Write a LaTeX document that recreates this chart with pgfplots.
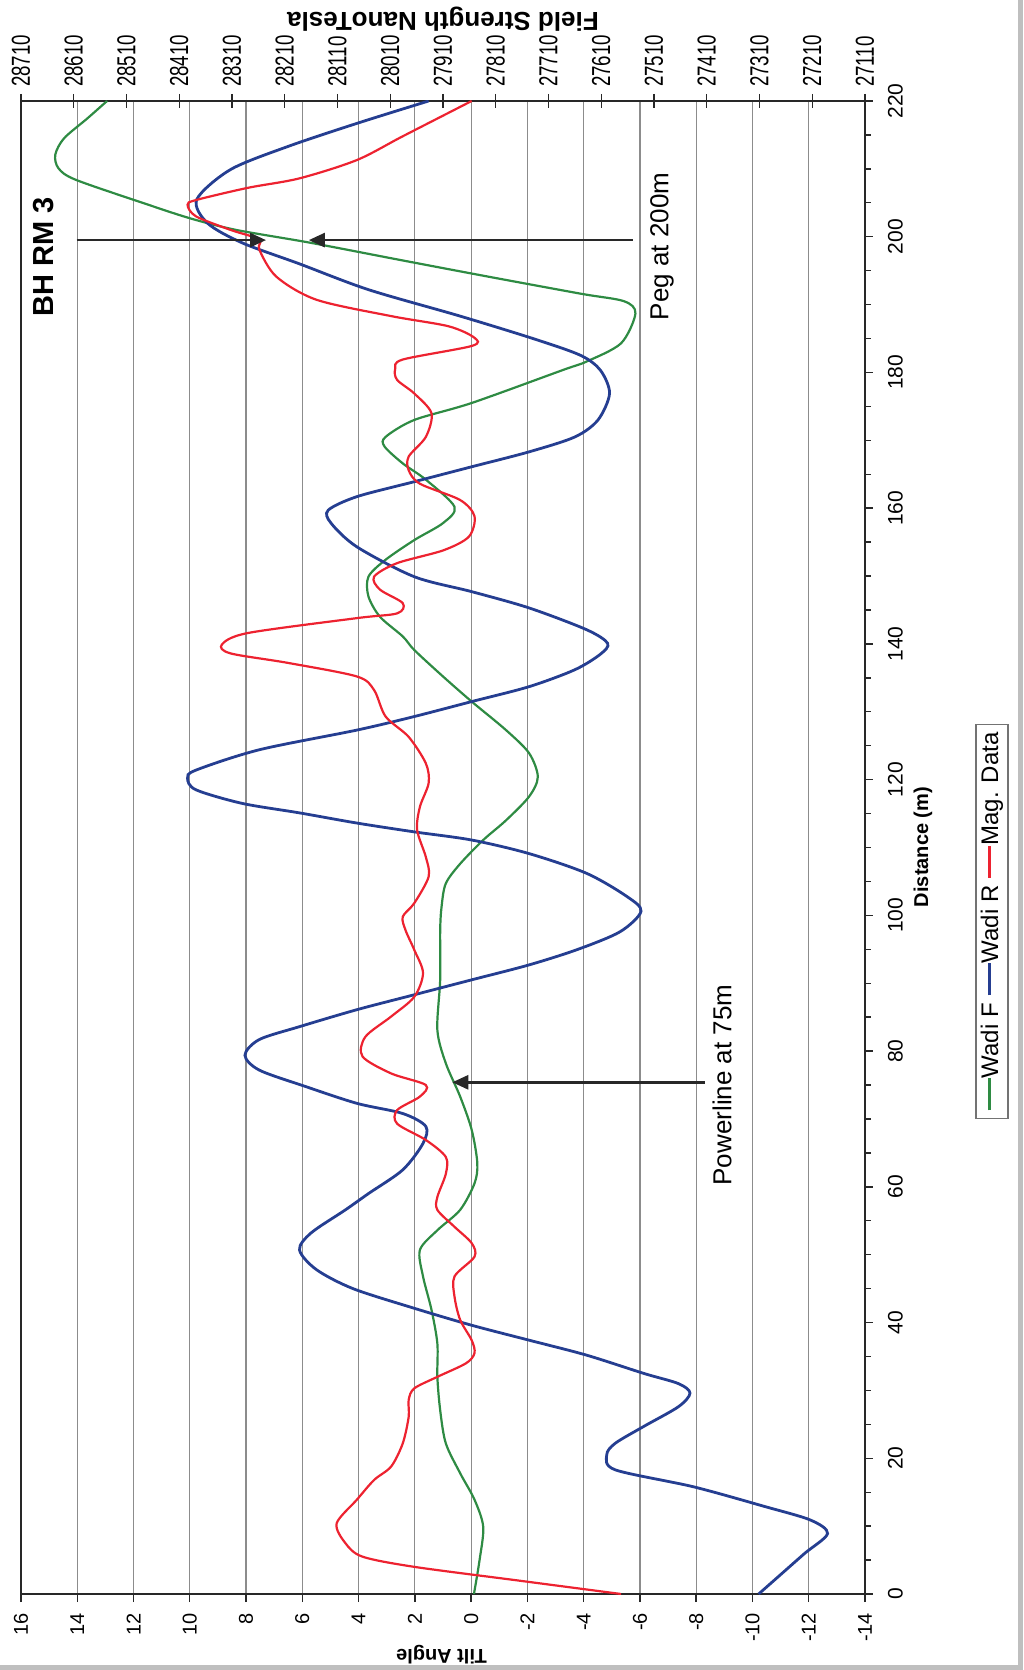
\documentclass[border=0pt]{standalone}
\usepackage{pgfplots}
\pgfplotsset{compat=1.18}
\usepackage{fontspec}
\setmainfont{Liberation Sans}
\usetikzlibrary{arrows.meta}
\definecolor{wadif}{RGB}{46,139,67}
\definecolor{wadir}{RGB}{37,62,145}
\definecolor{magd}{RGB}{237,34,48}
\definecolor{gridc}{RGB}{140,140,140}
\definecolor{framec}{RGB}{40,40,40}
\newcommand{\lgline}[1]{\textcolor{#1}{\rule[0.32em]{16pt}{1.2pt}}}
\begin{document}
\begin{tikzpicture}
\useasboundingbox (-10.5pt,-38pt) rectangle (501pt,797pt);
\fill[black!25] (-10.5pt,-38pt) rectangle (501pt,-35.5pt);
\fill[black!25] (498.5pt,-38pt) rectangle (501pt,797pt);
% secondary (top) axis: Field Strength
\begin{axis}[
  at={(0pt,0pt)}, anchor=south west,
  scale only axis, width=422pt, height=746.5pt,
  xmin=-14, xmax=16, x dir=reverse, ymin=0, ymax=1,
  axis x line*=top, axis y line=none,
  xtick={-14,-12.125,-10.25,-8.375,-6.5,-4.625,-2.75,-0.875,1,2.875,4.75,6.625,8.5,10.375,12.25,14.125,16},
  xticklabels={27110,27210,27310,27410,27510,27610,27710,27810,27910,28010,28110,28210,28310,28410,28510,28610,28710},
  tick align=center, major tick length=7pt,
  tick style={framec, line width=0.7pt},
  xticklabel style={yshift=1pt, rotate=90, xscale=0.72, anchor=west, font=\fontsize{13}{15}\selectfont},
  axis line style={-, framec, line width=1.3pt},
]
\end{axis}
% main axis
\begin{axis}[
  at={(0pt,0pt)}, anchor=south west,
  scale only axis, width=422pt, height=746.5pt,
  xmin=-14, xmax=16, x dir=reverse,
  ymin=0, ymax=220,
  xtick={-14,-12,...,16},
  ytick={0,20,...,220},
  minor y tick num=3,
  xtick pos=left, ytick pos=right, yticklabel pos=right,
  tick align=outside,
  major tick length=4pt, minor tick length=3pt,
  tick style={framec, line width=0.7pt},
  xmajorgrids,
  major grid style={gridc, line width=0.6pt},
  axis line style={framec, line width=1.3pt},
  /pgf/number format/assume math mode=true,
  xticklabel style={yshift=-2pt, rotate=90, anchor=east, font=\fontsize{10}{12}\selectfont},
  yticklabel style={xshift=4pt, rotate=90, anchor=north, font=\fontsize{10.5}{12}\selectfont},
]
\addplot[wadif, line width=1.1pt, smooth] coordinates {
(-0.1,0) (-0.3,5) (-0.43,9.9) (-0.12,13.9) (0.39,17.8) (0.9,22.2) (1.1,27.1) (1.2,32) (1.2,36.9) (1.41,41.9) (1.71,46.8) (1.82,50.7) (1.2,53.6) (0.39,56.6) (-0.12,60.5) (-0.22,63.5) (-0.02,68.4) (0.39,73.3) (0.9,78.2) (1.2,83.1) (1.1,90.5) (1.1,97.8) (1.05,101.3) (0.9,104.7) (0.39,107.6) (-0.43,111.1) (-1.24,114) (-2.06,117.5) (-2.37,120.4) (-2.06,123.9) (-1.24,127.3) (-0.02,131.5) (1.0,135.2) (2.02,139.1) (2.43,141.1) (3.24,144) (3.65,147) (3.65,149.9) (3.04,152.4) (2.02,155.3) (1.0,157.8) (0.59,160.2) (1.61,164.2) (2.43,166.6) (3.08,169.1) (3.04,170.5) (2.02,173) (-0.02,175.5) (-3.29,180.4) (-4.1,181.6) (-5.33,184.3) (-5.84,188.7) (-5.43,190.5) (-3.9,191.6) (-0.63,194.1) (2.43,196.5) (5.7,199.1) (8.35,201) (9.98,202.7) (11.61,204.9) (14.06,208.4) (14.67,210.1) (14.78,212.1) (14.47,214.5) (13.65,217.4) (12.94,220)
};
\addplot[wadir, line width=1.4pt, smooth] coordinates {
(-10.22,0) (-11.04,3) (-11.86,6) (-12.67,8.9) (-12.06,10.9) (-10.43,12.9) (-7.9,15.8) (-5.12,18.3) (-4.82,20.5) (-5.12,22.2) (-6.14,24.7) (-7.37,27.6) (-7.78,29.6) (-7.37,31) (-6.14,32.5) (-4.1,35.2) (-2.06,37.4) (-0.02,39.6) (2.02,42.1) (4.2,45.0) (5.5,47.8) (6.1,50.7) (5.69,53.2) (4.47,56.6) (3.65,59) (2.43,62.5) (1.71,66.4) (1.61,68.9) (2.43,70.8) (4.06,72.3) (5.9,74.8) (7.53,77.2) (8.04,79.4) (7.53,81.7) (6.1,83.6) (4.06,86.1) (2.02,88.3) (-0.02,90.5) (-2.06,92.7) (-3.8,95.0) (-5.3,97.6) (-6.04,100.6) (-5.53,102.8) (-4.1,106.2) (-2.06,109.1) (-0.02,111.1) (2.02,112.3) (4.06,113.6) (6.1,115.1) (8.14,116.5) (9.78,118.5) (10.08,120.2) (9.78,121.4) (7.53,124.4) (4.06,127.3) (2.02,129.3) (-0.02,131.5) (-2.06,133.7) (-3.69,136.2) (-4.6,138.5) (-4.85,140.1) (-4.1,142.1) (-2.06,145.3) (-0.02,147.7) (2.02,149.9) (4.06,154.3) (4.98,157.8) (5.08,159.7) (4.06,161.7) (2.02,163.9) (-0.02,166.1) (-2.06,168.3) (-3.69,170.5) (-4.51,173) (-4.92,176.9) (-4.6,180.3) (-3.9,182.5) (-2.27,184.9) (0.39,188.3) (3.65,192.2) (6.1,196) (8.14,199.1) (9.37,202) (9.75,205.5) (8.55,209.9) (6.51,213.3) (4.06,216.7) (1.51,220)
};
\addplot[magd, line width=1.1pt, smooth] coordinates {
(-5.33,0) (-1.65,2) (2.02,4) (3.86,5.5) (4.47,7.5) (4.78,10.4) (4.06,13.9) (3.45,16.8) (2.84,18.8) (2.43,22.2) (2.22,26.1) (2.22,28.6) (2.02,30.3) (1.2,32) (0.18,34) (-0.12,35.5) (-0.02,37.4) (0.39,40.4) (0.59,43.8) (0.59,46.8) (-0.12,49.7) (-0.02,51.7) (0.59,54.1) (1.2,56.6) (1.2,58.5) (0.9,61.9) (0.9,64.4) (1.61,66.9) (2.63,69.3) (2.63,71.3) (1.82,73.3) (1.61,75) (2.84,76.7) (3.86,79.2) (3.76,82.1) (2.84,85.1) (2.02,88) (1.71,91.5) (2.02,94.9) (2.33,97.8) (2.43,99.8) (2.02,101.8) (1.51,105.7) (1.61,108.6) (1.92,112.6) (1.82,116) (1.51,119.5) (1.61,122.4) (2.22,126.3) (3.04,129.3) (3.45,133.2) (4.06,135.2) (6.51,137.2) (8.55,138.6) (8.86,139.9) (7.94,141.6) (4.06,143.8) (2.63,144.5) (2.43,146) (3.24,148) (3.45,149.9) (2.63,151.9) (0.98,153.8) (0.08,155.8) (-0.12,158.8) (0.39,161.2) (1.82,163.6) (2.22,165.6) (2.22,167.6) (1.61,170.5) (1.41,174) (2.02,176.9) (2.63,178.9) (2.7,180.5) (2.43,181.9) (-0.02,183.9) (-0.12,185.1) (0.8,186.8) (2.84,188.3) (5.49,190.7) (6.92,194.1) (7.53,198.1) (7.53,199.6) (8.55,201) (9.78,203) (10.08,204.7) (9.78,205.4) (7.94,207.2) (6.1,208.6) (4.06,211.3) (2.43,214.8) (-0.02,220)
};
\draw[framec, line width=1.3pt, -{Triangle[length=8pt,width=7pt]}] (axis cs:14.02,199.5) -- (axis cs:7.29,199.5);
\draw[framec, line width=1.3pt, -{Triangle[length=8pt,width=7pt]}] (axis cs:-5.75,199.5) -- (axis cs:5.77,199.5);
\draw[framec, line width=1.3pt, -{Triangle[length=8pt,width=7pt]}] (axis cs:-8.30,75.4) -- (axis cs:0.67,75.4);
\end{axis}
% titles and annotations
\node[rotate=180, font=\bfseries\fontsize{13}{15}\selectfont] at (211pt,787.5pt) {Field Strength NanoTesla};
\node[rotate=180, font=\bfseries\fontsize{10}{12}\selectfont] at (210.25pt,-30.25pt) {Tilt Angle};
\node[rotate=90, font=\bfseries\fontsize{10}{12}\selectfont] at (451pt,373.5pt) {Distance (m)};
\node[rotate=90, font=\bfseries\fontsize{14.5}{16}\selectfont] at (11.25pt,668.5pt) {BH RM 3};
\node[rotate=90, font=\fontsize{13}{15}\selectfont] at (320.5pt,673.75pt) {Peg at 200m};
\node[rotate=90, font=\fontsize{13}{15}\selectfont] at (350.5pt,254.5pt) {Powerline at 75m};
\node[draw=black!55, line width=0.8pt, rotate=90, inner xsep=4pt, inner ysep=2.5pt, font=\fontsize{12}{14}\selectfont] at (485.5pt,336.25pt) {\lgline{wadif}Wadi F\hspace{4pt}\lgline{wadir}Wadi R\hspace{4pt}\lgline{magd}Mag. Data};
\end{tikzpicture}
\end{document}
